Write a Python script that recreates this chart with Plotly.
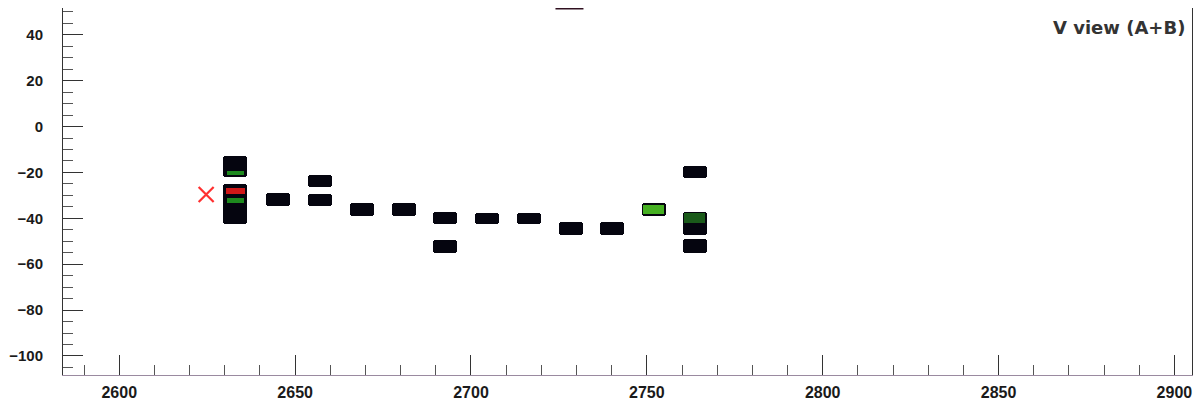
import plotly.graph_objects as go

# ---- data ----
hit_x      = [2633, 2633, 2645, 2657, 2657, 2669, 2681, 2692.6, 2692.6, 2704.5, 2716.5, 2728.4, 2740, 2752, 2763.6, 2763.6, 2763.6]
hit_bottom = [-22, -42.6, -34.8, -26.5, -34.8, -39, -39, -42.6, -55.2, -42.6, -42.6, -47.4, -47.4, -39, -22.6, -47.4, -55]
hit_top    = [-13, -25.2, -29, -21, -29.5, -33.5, -33.5, -37.4, -49.6, -37.8, -37.8, -41.7, -41.7, -33.5, -17, -37.4, -49]

green_x      = [2752, 2633, 2633, 2763.6]
green_bottom = [-38.3, -21.2, -33.2, -42]
green_top    = [-34.2, -19.2, -31.0, -37.8]

red_x      = [2633]
red_bottom = [-29.2]
red_top    = [-26.8]

cross_x = [2624.7]
cross_y = [-29.6]

top_mark_x = [2728]

x_range = [2584, 2905]
y_range = [-108.3, 51.7]
title_text = "V view (A+B)"

fig = go.Figure()

fig.add_trace(go.Bar(
    x=hit_x, y=[t - b for t, b in zip(hit_top, hit_bottom)], base=hit_bottom,
    width=6.8, marker=dict(color="#05050f", line=dict(width=0), cornerradius=3),
    showlegend=False, hoverinfo="skip"))

fig.add_trace(go.Bar(
    x=green_x, y=[t - b for t, b in zip(green_top, green_bottom)], base=green_bottom,
    width=[6.0, 5.0, 5.0, 6.0],
    marker=dict(color=["#46b022", "#1e8a1e", "#1e8a1e", "#1a5a1a"], line=dict(width=0)),
    showlegend=False, hoverinfo="skip"))

fig.add_trace(go.Bar(
    x=red_x, y=[t - b for t, b in zip(red_top, red_bottom)], base=red_bottom,
    width=5.5, marker=dict(color="#d01818", line=dict(width=0)),
    showlegend=False, hoverinfo="skip"))

fig.add_trace(go.Scatter(
    x=cross_x, y=cross_y, mode="markers",
    marker=dict(symbol="x-thin-open", size=15, color="#ff3030",
                line=dict(width=2.2, color="#ff3030")),
    showlegend=False, hoverinfo="skip"))

fig.add_trace(go.Scatter(
    x=top_mark_x, y=[y_range[1]], mode="markers", cliponaxis=False,
    marker=dict(symbol="line-ew-open", size=20, color="#301020",
                line=dict(width=3, color="#301020")),
    showlegend=False, hoverinfo="skip"))

fig.update_layout(
    width=1193, height=406,
    margin=dict(l=55, r=9, t=0, b=39),
    paper_bgcolor="white", plot_bgcolor="white",
    barmode="overlay", bargap=0,
    font=dict(family="Liberation Sans, Arial, sans-serif", color="#1a1a1a"),
    annotations=[dict(
        text=title_text, xref="paper", yref="paper", x=0.9955, y=0.982,
        xanchor="right", yanchor="top", showarrow=False,
        font=dict(family="DejaVu Sans", size=18, color="#333333", weight="bold"))],
)

fig.update_xaxes(
    range=x_range, showgrid=False, zeroline=False,
    showline=True, linecolor="#9a8aa0", linewidth=1, mirror=True,
    ticks="inside", ticklen=20, tickwidth=1, tickcolor="#333",
    tick0=2600, dtick=50,
    minor=dict(ticks="inside", dtick=10, ticklen=10, tickcolor="#555", showgrid=False),
    tickfont=dict(size=16, family="Liberation Sans", color="#1a1a1a", weight="bold"),
    ticklabelstandoff=3,
)

fig.update_yaxes(
    range=y_range, showgrid=False, zeroline=False,
    showline=True, linecolor="#333", linewidth=1, mirror=True,
    ticks="inside", ticklen=20, tickwidth=1, tickcolor="#333",
    tick0=0, dtick=20,
    minor=dict(ticks="inside", dtick=5, ticklen=10, tickcolor="#555", showgrid=False),
    tickfont=dict(size=15, family="Liberation Sans", color="#1a1a1a", weight="bold"),
    ticklabelstandoff=16,
)

fig.write_html("out.html")
